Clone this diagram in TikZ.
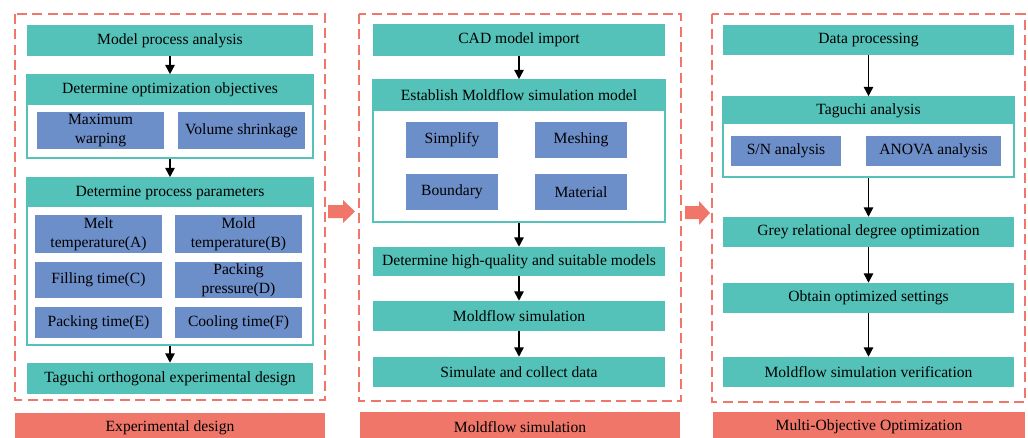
\documentclass[tikz,border=0pt]{standalone}
\usepackage{fontspec}
\setmainfont{Liberation Serif}
\usetikzlibrary{arrows.meta}
\definecolor{stageTeal}{RGB}{84,194,185}
\definecolor{paramBlue}{RGB}{108,142,201}
\definecolor{phaseRed}{RGB}{241,118,106}
\tikzset{
  sz/.style 2 args={minimum width=#1*0.75pt, minimum height=#2*0.75pt},
  tealBox/.style={fill=stageTeal, inner sep=0pt, align=center},
  blueBox/.style={fill=paramBlue, inner sep=0pt, align=center},
  groupBox/.style={draw=stageTeal, line width=1.2pt, fill=white, inner sep=0pt},
  phaseBar/.style={fill=phaseRed, inner sep=0pt},
  phaseFrame/.style={draw=phaseRed, line width=1.3pt, dash pattern=on 7.5pt off 4pt},
  flowArrow/.style={-{Triangle[length=7pt,width=7pt]}, line width=1.2pt}
}

\begin{document}
\begin{tikzpicture}[x=0.75pt, y=-0.75pt, font=\fontsize{11.7pt}{14pt}\selectfont]
\clip (0,0) rectangle (1028,437);

% Experimental design
\draw[phaseFrame] (15,14) rectangle (325,400);
\node[tealBox, sz={286}{31}] (mpa) at (170,40.5) {Model process analysis};
\node[groupBox, sz={286}{83}] (objGrp) at (170,116.5) {};
\node[tealBox, sz={286}{30}] (objHead) at (170,90) {Determine optimization objectives};
\node[blueBox, sz={127}{37}] (maxw) at (100.5,130.5) {Maximum\\warping};
\node[blueBox, sz={127}{37}] (vols) at (241.5,130.5) {Volume shrinkage};
\node[groupBox, sz={286}{167}] (parGrp) at (170,261.5) {};
\node[tealBox, sz={286}{29}] (parHead) at (170,192.5) {Determine process parameters};
\node[blueBox, sz={127}{38}] (pA) at (98.5,234) {Melt\\temperature(A)};
\node[blueBox, sz={127}{38}] (pB) at (238.5,234) {Mold\\temperature(B)};
\node[blueBox, sz={127}{36}] (pC) at (98.5,280) {Filling time(C)};
\node[blueBox, sz={127}{36}] (pD) at (238.5,280) {Packing\\pressure(D)};
\node[blueBox, sz={127}{31}] (pE) at (98.5,322.5) {Packing time(E)};
\node[blueBox, sz={127}{31}] (pF) at (238.5,322.5) {Cooling time(F)};
\node[tealBox, sz={286}{31}] (tod) at (170,378.5) {Taguchi orthogonal experimental design};
\draw[flowArrow] (mpa.south) -- (objGrp.north);
\draw[flowArrow] (objGrp.south) -- (parGrp.north);
\draw[flowArrow] (parGrp.south) -- (tod.north);
\node[phaseBar, sz={310}{30}] (expBar) at (170,428) {Experimental design};

% Moldflow simulation
\draw[phaseFrame] (359,14) rectangle (681,401);
\node[tealBox, sz={292}{32}] (cad) at (519,40) {CAD model import};
\node[groupBox, sz={292}{142}] (estGrp) at (519,151) {};
\node[tealBox, sz={292}{31}] (estHead) at (519,95.5) {Establish Moldflow simulation model};
\node[blueBox, sz={92}{36}] (simp) at (452,140) {Simplify};
\node[blueBox, sz={92}{36}] (mesh) at (581,140) {Meshing};
\node[blueBox, sz={92}{36}] (bnd) at (452,192) {Boundary};
\node[blueBox, sz={92}{36}] (mat) at (581,192) {Material};
\node[tealBox, sz={292}{29}] (hq) at (519,261.5) {Determine high-quality and suitable models};
\node[tealBox, sz={292}{30}] (mfs) at (519,316) {Moldflow simulation};
\node[tealBox, sz={292}{30}] (scd) at (519,372) {Simulate and collect data};
\draw[flowArrow] (cad.south) -- (estGrp.north);
\draw[flowArrow] (estGrp.south) -- (hq.north);
\draw[flowArrow] (hq.south) -- (mfs.north);
\draw[flowArrow] (mfs.south) -- (scd.north);
\node[phaseBar, sz={320}{30}] (simBar) at (520,427) {Moldflow simulation};

% Multi-objective optimization
\draw[phaseFrame] (712,14) rectangle (1025,402);
\node[tealBox, sz={291}{30}] (dp) at (868.5,40) {Data processing};
\node[groupBox, sz={291}{80}] (tagGrp) at (868.5,137) {};
\node[tealBox, sz={291}{27}] (tagHead) at (868.5,110.5) {Taguchi analysis};
\node[blueBox, sz={110}{30}] (sn) at (786,151) {S/N analysis};
\node[blueBox, sz={135}{30}] (anova) at (933.5,151) {ANOVA analysis};
\node[tealBox, sz={291}{30}] (grey) at (868.5,232) {Grey relational degree optimization};
\node[tealBox, sz={291}{30}] (opt) at (868.5,298) {Obtain optimized settings};
\node[tealBox, sz={291}{30}] (ver) at (868.5,372) {Moldflow simulation verification};
\draw[flowArrow] (dp.south) -- (tagGrp.north);
\draw[flowArrow] (tagGrp.south) -- (grey.north);
\draw[flowArrow] (grey.south) -- (opt.north);
\draw[flowArrow] (opt.south) -- (ver.north);
\node[phaseBar, sz={312}{30}] (optBar) at (869,427) {Multi-Objective Optimization};

% Stage arrows
\fill[phaseRed] (328,205) -- (343,205) -- (343,200) -- (355,211.5) -- (343,223) -- (343,218) -- (328,218) -- cycle;
\fill[phaseRed] (685,206) -- (699,206) -- (699,201) -- (710,213) -- (699,225) -- (699,219) -- (685,219) -- cycle;
\end{tikzpicture}
\end{document}
